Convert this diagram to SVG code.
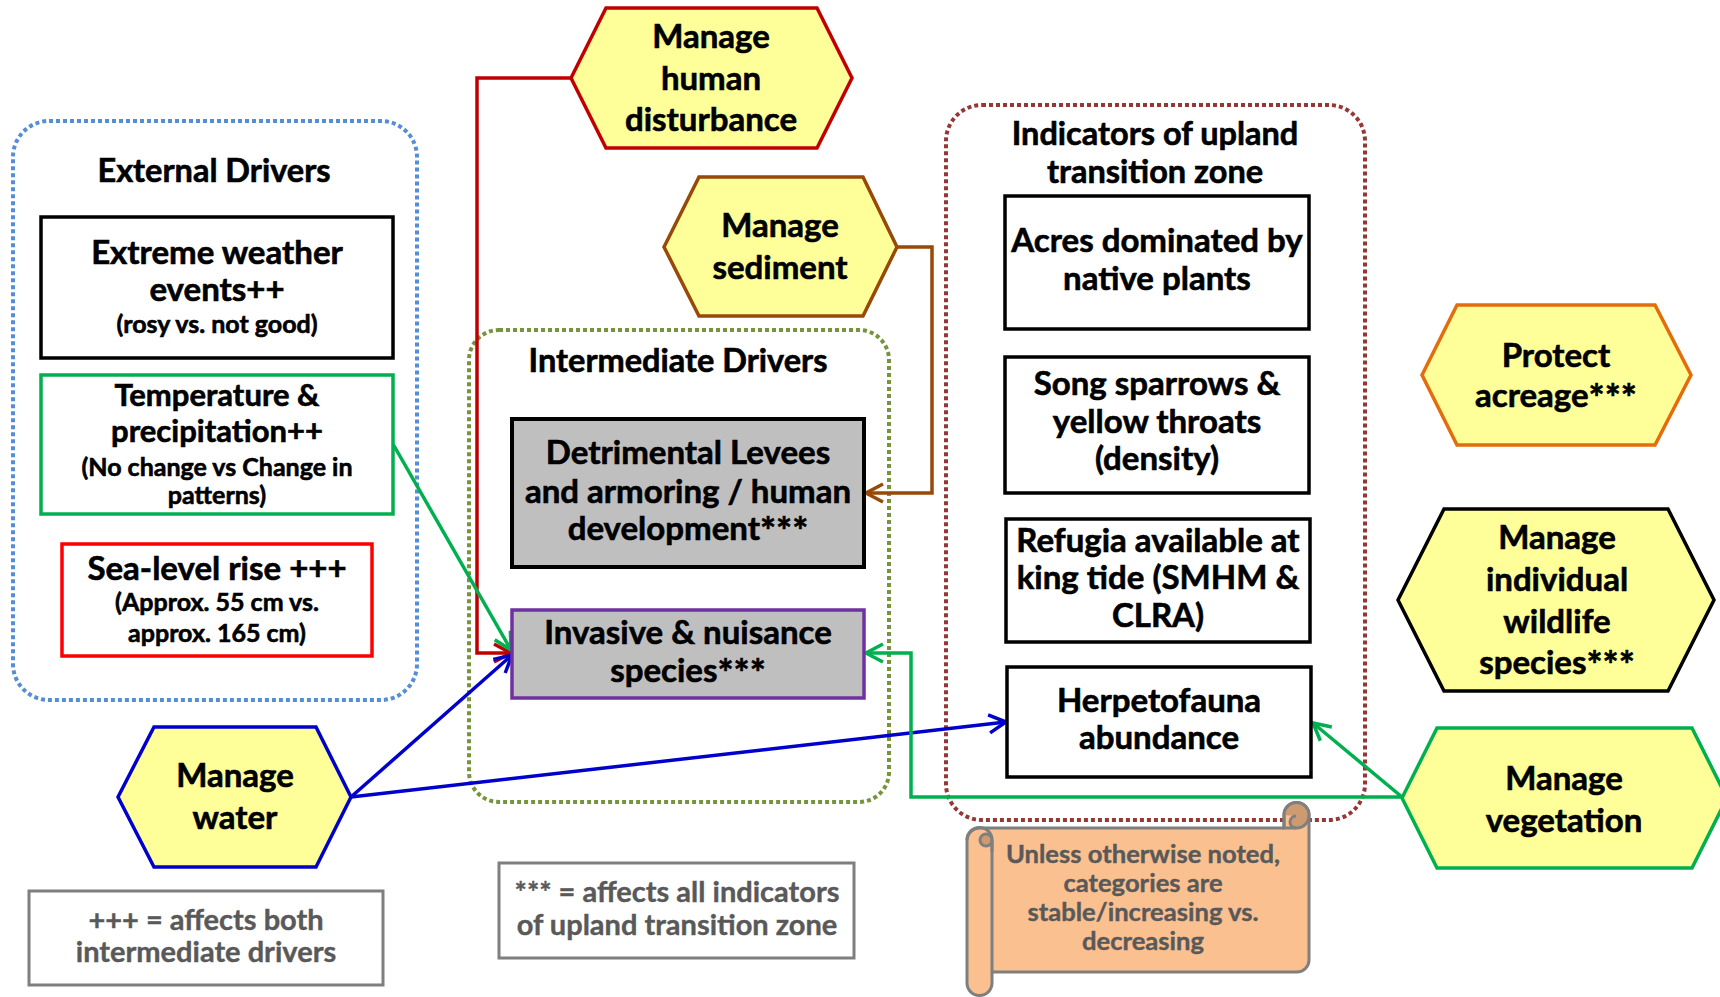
<svg xmlns="http://www.w3.org/2000/svg" width="1720" height="997" viewBox="0 0 1720 997">
  <style>
    text { font-family: Lato, "Open Sans", "Liberation Sans", sans-serif; font-weight: bold; text-anchor: middle; fill: #000; stroke: #000; stroke-width: 0.6px; }
    .t32 { font-size: 33px; }
    .t32s { font-size: 31px; }
    .t24 { font-size: 25px; }
    .title { font-size: 32.5px; }
    .note { font-size: 29px; fill: #595959; stroke: #595959; stroke-width: 0.4px; }
    .scrolltxt { font-size: 25.6px; fill: #595959; stroke: #595959; stroke-width: 0.4px; }
    .ast { font-size: 1.15em; }
    .group { fill: none; stroke-width: 4; stroke-dasharray: 4 3; }
    .hex { fill: #FFFF99; stroke-width: 3.5; stroke-linejoin: miter; }
    .box { stroke-width: 3.5; }
    .link { fill: none; stroke-width: 3.5; }
  </style>
  <defs>
    <marker id="arrRed" markerUnits="userSpaceOnUse" markerWidth="26" markerHeight="26" viewBox="0 0 26 26" refX="22" refY="13" orient="auto">
      <path d="M5,4 L22,13 L5,22" fill="none" stroke="#C00000" stroke-width="3.5"/>
    </marker>
    <marker id="arrBrown" markerUnits="userSpaceOnUse" markerWidth="26" markerHeight="26" viewBox="0 0 26 26" refX="22" refY="13" orient="auto">
      <path d="M5,4 L22,13 L5,22" fill="none" stroke="#984807" stroke-width="3.5"/>
    </marker>
    <marker id="arrGreen" markerUnits="userSpaceOnUse" markerWidth="26" markerHeight="26" viewBox="0 0 26 26" refX="22" refY="13" orient="auto">
      <path d="M5,4 L22,13 L5,22" fill="none" stroke="#00B050" stroke-width="3.5"/>
    </marker>
    <marker id="arrBlue" markerUnits="userSpaceOnUse" markerWidth="26" markerHeight="26" viewBox="0 0 26 26" refX="22" refY="13" orient="auto">
      <path d="M5,4 L22,13 L5,22" fill="none" stroke="#0000CC" stroke-width="3.5"/>
    </marker>
  </defs>

  <rect width="1720" height="997" fill="#FFFFFF"/>

  <!-- dotted grouping frames -->
  <g id="external-drivers-frame">
    <rect class="group" x="13" y="121" width="404" height="579" rx="36" stroke="#558ED5"/>
    <text class="title" x="214" y="182">External Drivers</text>
  </g>
  <g id="intermediate-drivers-frame">
    <rect class="group" x="469" y="330" width="420" height="472" rx="30" stroke="#77933C"/>
    <text class="title" x="678" y="372">Intermediate Drivers</text>
  </g>
  <g id="indicators-frame">
    <rect class="group" x="946" y="105" width="419" height="715" rx="36" stroke="#953735"/>
    <text class="title" x="1155" y="145">Indicators of upland</text>
    <text class="title" x="1155" y="183">transition zone</text>
  </g>

  <!-- connectors -->
  <g id="connectors">
    <polyline class="link" stroke="#C00000" points="571,78 477,78 477,653 511,653" marker-end="url(#arrRed)"/>
    <polyline class="link" stroke="#984807" points="897,247 932,247 932,493 866,493" marker-end="url(#arrBrown)"/>
    <line class="link" stroke="#00B050" x1="393" y1="444" x2="511" y2="650" marker-end="url(#arrGreen)"/>
    <line class="link" stroke="#0000CC" x1="351" y1="797" x2="512" y2="655" marker-end="url(#arrBlue)"/>
    <line class="link" stroke="#0000CC" x1="351" y1="797" x2="1006" y2="722" marker-end="url(#arrBlue)"/>
    <polyline class="link" stroke="#00B050" points="1402,797 911,797 911,653 866,653" marker-end="url(#arrGreen)"/>
    <line class="link" stroke="#00B050" x1="1402" y1="797" x2="1313" y2="723" marker-end="url(#arrGreen)"/>
  </g>

  <!-- external drivers -->
  <g id="extreme-weather">
    <rect class="box" x="41" y="217" width="352" height="141" fill="#FFFFFF" stroke="#000000"/>
    <text class="t32" x="217" y="264">Extreme weather</text>
    <text class="t32" x="217" y="301">events++</text>
    <text class="t24" x="217" y="333">(rosy vs. not good)</text>
  </g>
  <g id="temperature-precipitation">
    <rect class="box" x="41" y="375" width="352" height="139" fill="#FFFFFF" stroke="#00B050"/>
    <text class="t32s" x="217" y="406">Temperature &amp;</text>
    <text class="t32s" x="217" y="442">precipitation++</text>
    <text class="t24" x="217" y="476">(No change vs Change in</text>
    <text class="t24" x="217" y="504">patterns)</text>
  </g>
  <g id="sea-level-rise">
    <rect class="box" x="62" y="544" width="310" height="112" fill="#FFFFFF" stroke="#FF0000"/>
    <text class="t32" x="217" y="580">Sea-level rise +++</text>
    <text class="t24" x="217" y="611">(Approx. 55 cm vs.</text>
    <text class="t24" x="217" y="642">approx. 165 cm)</text>
  </g>

  <!-- intermediate drivers -->
  <g id="levees-development">
    <rect x="512" y="419" width="352" height="148" fill="#BFBFBF" stroke="#000000" stroke-width="4"/>
    <text class="t32" x="688" y="464">Detrimental Levees</text>
    <text class="t32" x="688" y="503">and armoring / human</text>
    <text class="t32" x="688" y="540">development<tspan class="ast" dy="5">***</tspan></text>
  </g>
  <g id="invasive-species">
    <rect x="512" y="610" width="352" height="88" fill="#BFBFBF" stroke="#7030A0" stroke-width="3.5"/>
    <text class="t32" x="688" y="644">Invasive &amp; nuisance</text>
    <text class="t32" x="688" y="682">species<tspan class="ast" dy="5">***</tspan></text>
  </g>

  <!-- indicators -->
  <g id="acres-native-plants">
    <rect class="box" x="1005" y="196" width="304" height="133" fill="#FFFFFF" stroke="#000000"/>
    <text class="t32" x="1157" y="252">Acres dominated by</text>
    <text class="t32" x="1157" y="290">native plants</text>
  </g>
  <g id="song-sparrows">
    <rect class="box" x="1005" y="357" width="304" height="136" fill="#FFFFFF" stroke="#000000"/>
    <text class="t32" x="1157" y="395">Song sparrows &amp;</text>
    <text class="t32" x="1157" y="433">yellow throats</text>
    <text class="t32" x="1157" y="470">(density)</text>
  </g>
  <g id="refugia-king-tide">
    <rect class="box" x="1006" y="519" width="304" height="123" fill="#FFFFFF" stroke="#000000"/>
    <text class="t32" x="1158" y="552">Refugia available at</text>
    <text class="t32" x="1158" y="589">king tide (SMHM &amp;</text>
    <text class="t32" x="1158" y="627">CLRA)</text>
  </g>
  <g id="herpetofauna">
    <rect class="box" x="1007" y="667" width="304" height="110" fill="#FFFFFF" stroke="#000000"/>
    <text class="t32" x="1159" y="712">Herpetofauna</text>
    <text class="t32" x="1159" y="749">abundance</text>
  </g>

  <!-- management actions -->
  <g id="manage-human-disturbance">
    <polygon class="hex" stroke="#C00000" points="571,78 606,8 817,8 852,78 817,148 606,148"/>
    <text class="t32" x="711" y="48">Manage</text>
    <text class="t32" x="711" y="90">human</text>
    <text class="t32" x="711" y="131">disturbance</text>
  </g>
  <g id="manage-sediment">
    <polygon class="hex" stroke="#984807" points="664,247 699,177 863,177 897,247 863,316 699,316"/>
    <text class="t32" x="780" y="237">Manage</text>
    <text class="t32" x="780" y="279">sediment</text>
  </g>
  <g id="manage-water">
    <polygon class="hex" stroke="#0000CC" stroke-width="4" points="118,797 154,727 316,727 351,797 316,867 154,867"/>
    <text class="t32" x="235" y="787">Manage</text>
    <text class="t32" x="235" y="829">water</text>
  </g>
  <g id="protect-acreage">
    <polygon class="hex" stroke="#E46C0A" points="1422,375 1457,305 1655,305 1691,375 1655,445 1457,445"/>
    <text class="t32" x="1556" y="367">Protect</text>
    <text class="t32" x="1556" y="407">acreage<tspan class="ast" dy="5">***</tspan></text>
  </g>
  <g id="manage-wildlife">
    <polygon class="hex" stroke="#000000" stroke-width="4" points="1398,600 1444,509 1668,509 1714,600 1668,691 1444,691"/>
    <text class="t32" x="1557" y="549">Manage</text>
    <text class="t32" x="1557" y="591">individual</text>
    <text class="t32" x="1557" y="633">wildlife</text>
    <text class="t32" x="1557" y="674">species<tspan class="ast" dy="5">***</tspan></text>
  </g>
  <g id="manage-vegetation">
    <polygon class="hex" stroke="#00B050" points="1402,798 1437,728 1692,728 1727,798 1692,868 1437,868"/>
    <text class="t32" x="1564" y="790">Manage</text>
    <text class="t32" x="1564" y="832">vegetation</text>
  </g>

  <!-- legend notes -->
  <g id="note-plus">
    <rect x="29" y="891" width="354" height="94" fill="#FFFFFF" stroke="#7F7F7F" stroke-width="3"/>
    <text class="note" x="206" y="930">+++ = affects both</text>
    <text class="note" x="206" y="962">intermediate drivers</text>
  </g>
  <g id="note-stars">
    <rect x="499" y="863" width="355" height="95" fill="#FFFFFF" stroke="#7F7F7F" stroke-width="3"/>
    <text class="note" x="677" y="902">*** = affects all indicators</text>
    <text class="note" x="677" y="935">of upland transition zone</text>
  </g>

  <!-- scroll note -->
  <g id="scroll-note">
    <path d="M980,828 H1284 V815 A12.5,12.5 0 0 1 1309,815 V960 A12,12 0 0 1 1297,972 H992 V983 A12.5,12.5 0 0 1 967,983 V840 A12.5,12.5 0 0 1 980,828 Z" fill="#FAC090" stroke="#7F7F7F" stroke-width="3" stroke-linejoin="round"/>
    <path d="M1284,815 A12.5,12.5 0 0 1 1309,815 A12.5,12.5 0 0 1 1296,828 A6,6 0 0 1 1290,822 A6,6 0 0 1 1296,816" fill="#CD9B6F" stroke="#7F7F7F" stroke-width="3"/>
    <path d="M1284,815 V828 H1296" fill="none" stroke="#7F7F7F" stroke-width="3"/>
    <path d="M992,840 A6,6 0 0 1 980,840 A6,6 0 0 1 986,834 A6,6 0 0 1 992,840 V852" fill="#CD9B6F" stroke="#7F7F7F" stroke-width="3"/>
    <path d="M967,840 A12.5,12.5 0 0 1 992,840 V972" fill="none" stroke="#7F7F7F" stroke-width="3"/>
    <text class="scrolltxt" x="1143" y="863">Unless otherwise noted,</text>
    <text class="scrolltxt" x="1143" y="892">categories are</text>
    <text class="scrolltxt" x="1143" y="921">stable/increasing vs.</text>
    <text class="scrolltxt" x="1143" y="950">decreasing</text>
  </g>
</svg>
